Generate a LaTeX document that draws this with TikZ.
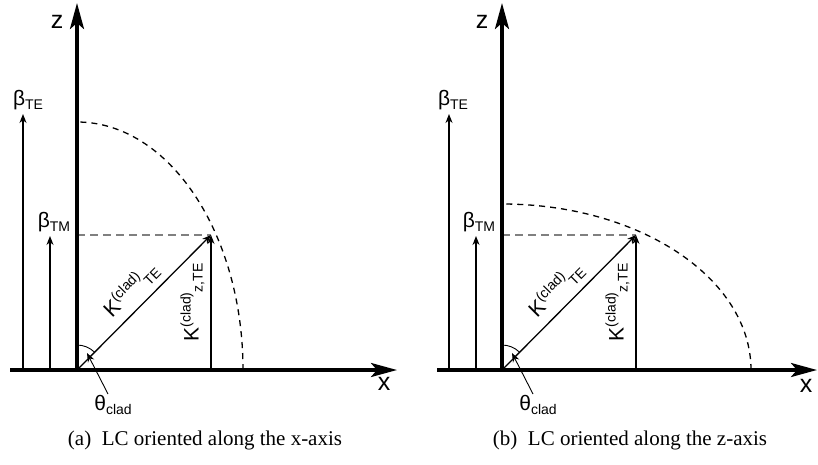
\documentclass[tikz,border=0pt]{standalone}
\usepackage{fontspec}
\setmainfont{Liberation Serif}
\newfontfamily\lab{Liberation Sans}
\usetikzlibrary{arrows.meta}
\newcommand{\sbx}[1]{\raisebox{-4pt}{\fontsize{14}{14}\selectfont #1}}
\newcommand{\spx}[1]{\raisebox{8pt}{\fontsize{14}{14}\selectfont #1}}
\begin{document}
\begin{tikzpicture}[x=1pt,y=-1pt,
 axis/.style={line width=3.5pt,-{Stealth[length=26pt,width=14pt,inset=6pt]}},
 vec/.style={line width=1.3pt,-{Stealth[length=9pt,width=7pt]}},
 ell/.style={line width=1.3pt,dash pattern=on 6pt off 5pt},
 proj/.style={line width=1.2pt,gray,dash pattern=on 8pt off 5pt},
 arcl/.style={line width=0.9pt},
 lbl/.style={font=\lab\fontsize{21}{24}\selectfont, inner sep=0pt},
 axlbl/.style={font=\lab\fontsize{25}{28}\selectfont, inner sep=0pt},
 capt/.style={font=\fontsize{21}{24}\selectfont, inner sep=0pt}]
\useasboundingbox (0,0) rectangle (818,464);

% ---------- panel (a) ----------
\coordinate (aO) at (77,370);
\coordinate (aZ) at (77,3);
\coordinate (aXs) at (10,370);
\coordinate (aX) at (397,370);
\coordinate (aK) at (211,235);
\coordinate (aKb) at (211,370);
\coordinate (aP) at (77,235);
\coordinate (aTE0) at (23,370);
\coordinate (aTE1) at (23,114);
\coordinate (aTM0) at (50,370);
\coordinate (aTM1) at (50,236);
\coordinate (aTh0) at (108,394);
\coordinate (aTh1) at (87,353);
\coordinate (aE) at (243,370);

\draw[ell] (aE) arc[start angle=0,end angle=-90,x radius=166,y radius=248];
\draw[proj] (aP) -- (aK);
\draw[axis] (aO) -- (aZ);
\draw[axis] (aXs) -- (aX);
\draw[vec] (aTE0) -- (aTE1);
\draw[vec] (aTM0) -- (aTM1);
\draw[vec] (aO) -- node[sloped, above=7pt, lbl] (aKl) {K\spx{(clad)}\sbx{TE}} (aK);
\draw[vec] (aKb) -- node[sloped, above=6pt, lbl] (aKzl) {K\spx{(clad)}\sbx{z,TE}} (aK);
\draw[arcl] (aO) ++(0,-25) arc[start angle=-90,end angle=-45,radius=25];
\draw[vec,line width=0.9pt] (aTh0) -- (aTh1);
\node[axlbl] (az) at (57,22) {z};
\node[axlbl] (ax) at (384,384) {x};
\node[lbl] (abTE) at (28,100) {β\sbx{TE}};
\node[lbl] (abTM) at (54,222) {β\sbx{TM}};
\node[lbl] (ath) at (113,405) {θ\sbx{clad}};
\node[capt] (acap) at (205,440) {(a)\ \ LC oriented along the x-axis};

% ---------- panel (b) ----------
\coordinate (bO) at (502,370);
\coordinate (bZ) at (502,3);
\coordinate (bXs) at (437,370);
\coordinate (bX) at (817,370);
\coordinate (bK) at (636,235);
\coordinate (bKb) at (636,370);
\coordinate (bP) at (502,235);
\coordinate (bTE0) at (449,370);
\coordinate (bTE1) at (449,114);
\coordinate (bTM0) at (476,370);
\coordinate (bTM1) at (476,236);
\coordinate (bTh0) at (533,394);
\coordinate (bTh1) at (512,353);
\coordinate (bE) at (751,370);

\draw[ell] (bE) arc[start angle=0,end angle=-90,x radius=249,y radius=166];
\draw[proj] (bP) -- (bK);
\draw[axis] (bO) -- (bZ);
\draw[axis] (bXs) -- (bX);
\draw[vec] (bTE0) -- (bTE1);
\draw[vec] (bTM0) -- (bTM1);
\draw[vec] (bO) -- node[sloped, above=7pt, lbl] (bKl) {K\spx{(clad)}\sbx{TE}} (bK);
\draw[vec] (bKb) -- node[sloped, above=6pt, lbl] (bKzl) {K\spx{(clad)}\sbx{z,TE}} (bK);
\draw[arcl] (bO) ++(0,-25) arc[start angle=-90,end angle=-45,radius=25];
\draw[vec,line width=0.9pt] (bTh0) -- (bTh1);
\node[axlbl] (bz) at (482,22) {z};
\node[axlbl] (bx) at (806,386) {x};
\node[lbl] (bbTE) at (453,100) {β\sbx{TE}};
\node[lbl] (bbTM) at (479,222) {β\sbx{TM}};
\node[lbl] (bth) at (538,405) {θ\sbx{clad}};
\node[capt] (bcap) at (630,440) {(b)\ \ LC oriented along the z-axis};
\end{tikzpicture}
\end{document}
